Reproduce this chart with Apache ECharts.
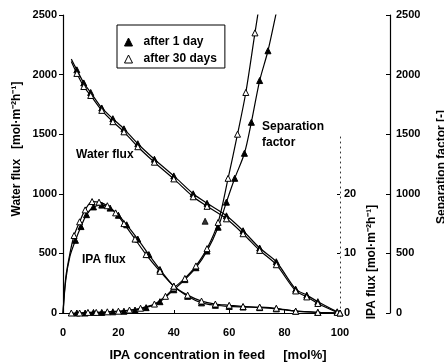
<!DOCTYPE html>
<html>
<head>
<meta charset="utf-8">
<script src="https://cdn.jsdelivr.net/npm/echarts@6/dist/echarts.min.js"></script>
<style>
  html, body { margin: 0; padding: 0; background: #fff; }
  #chart { width: 444px; height: 363px; }
</style>
</head>
<body>
<div id="chart"></div>
<script>
// 水通量 (left axis)
const waterX = [3, 5, 7.5, 10, 14, 18, 22, 27, 33, 40, 47, 52, 59, 65, 71, 77, 84, 88, 92, 99]
const water1d = [2130, 2040, 1930, 1850, 1720, 1630, 1545, 1420, 1290, 1150, 1000, 920, 815, 690, 545, 430, 200, 150, 95, 10]
const water30d = [2110, 2010, 1900, 1825, 1700, 1605, 1520, 1395, 1265, 1125, 975, 895, 790, 665, 525, 405, 185, 135, 80, 5]

// IPA flux (inner right axis)
const ipaX1d = [0, 1, 2.5, 4.5, 6.5, 8.5, 11, 14, 17, 20, 23, 27, 31, 35, 40, 45, 50, 55, 60, 65, 71, 77, 84, 92, 100]
const ipa1d = [0, 5.5, 9.5, 12.2, 14.5, 16.5, 17.8, 18.1, 17.6, 16.4, 14.8, 12.4, 9.8, 7.3, 4.5, 2.8, 1.7, 1.3, 1.1, 1.0, 0.9, 0.7, 0.3, 0.1, 0]
const ipaX30d = [0, 1, 2.5, 4, 6, 8, 10.5, 13, 16, 19, 22, 26, 30, 35, 40, 45, 50, 55, 60, 65, 71, 77, 84, 92, 100]
const ipa30d = [0, 6, 10, 13, 15.3, 17.3, 18.7, 18.6, 18, 16.8, 15, 12.4, 9.8, 7, 4.5, 3, 2, 1.5, 1.3, 1.1, 1.0, 0.8, 0.3, 0.1, 0]

// separation factor (outer right axis)
const sepX1d = [5, 8, 11, 14, 18, 22, 26, 30, 35, 40, 44, 48, 52, 56, 59, 62, 65.5, 68, 71, 74, 77, 80]
const sep1d = [0, 0, 5, 5, 10, 15, 25, 45, 95, 195, 280, 380, 520, 720, 930, 1130, 1340, 1600, 1950, 2200, 2520, 2850]
const sepX30d = [3, 6, 9, 12, 16, 20, 24, 28, 33, 37, 40, 44, 48, 52, 56, 59.6, 63, 66, 69.3, 72]
const sep30d = [0, 0, 5, 5, 10, 15, 25, 40, 75, 140, 210, 290, 395, 540, 760, 1130, 1500, 1850, 2350, 2750]
const sepOutX = [51.3]
const sepOut1d = [770]

const xTicks = [0, 20, 40, 60, 80, 100]
const ipaTicks = [0, 10, 20]

const FONT = 'Liberation Sans, Arial, sans-serif'
const bold = (size) => 'bold ' + size + 'px ' + FONT
const plain = (v) => String(v)

function pairs(xs, ys, noMarkBelow) {
  return xs.map(function(x, i) {
    const item = { value: [x, ys[i]] }
    if (noMarkBelow !== undefined && x < noMarkBelow) item.symbol = 'none'
    return item
  })
}

const filled = { color: '#000', borderColor: '#000', borderWidth: 1 }
const hollow = { color: '#fff', borderColor: '#000', borderWidth: 1 }
const line = { color: '#000', width: 1.2 }

function curve(name, xAxisIndex, yAxisIndex, data, style) {
  return {
    name: name,
    type: 'line',
    xAxisIndex: xAxisIndex,
    yAxisIndex: yAxisIndex,
    data: data,
    smooth: 0.3,
    symbol: 'triangle',
    symbolSize: 6,
    showAllSymbol: true,
    itemStyle: style,
    lineStyle: line,
    z: 3
  }
}

const chart = echarts.init(document.getElementById('chart'))

chart.setOption({
  animation: false,
  backgroundColor: '#fff',
  textStyle: { fontFamily: FONT },
  grid: [
    { left: 63, right: 104, top: 15, bottom: 50 },
    { left: 63, right: 104, top: 134.2, bottom: 50 }
  ],
  legend: {
    left: 117,
    top: 25,
    orient: 'vertical',
    padding: [10, 8, 2, 7],
    itemGap: 3,
    itemWidth: 8,
    itemHeight: 8,
    borderColor: '#000',
    borderWidth: 1,
    backgroundColor: '#fff',
    textStyle: { fontFamily: FONT, fontWeight: 'bold', fontSize: 12, color: '#000', padding: [0, 0, 0, 6], lineHeight: 14 },
    data: [
      { name: 'after 1 day', icon: 'triangle', itemStyle: filled },
      { name: 'after 30 days', icon: 'triangle', itemStyle: hollow }
    ]
  },
  xAxis: [
    {
      gridIndex: 0,
      type: 'value',
      min: 0,
      max: 100,
      interval: 20,
      axisLine: { lineStyle: { color: '#000', width: 1.2 } },
      axisTick: { inside: true, length: 3, lineStyle: { color: '#000' }, customValues: xTicks },
      axisLabel: { color: '#000', fontWeight: 'bold', fontSize: 11, margin: 14, customValues: xTicks, formatter: plain },
      splitLine: { show: false }
    },
    {
      gridIndex: 1,
      type: 'value',
      min: 0,
      max: 100,
      show: false
    }
  ],
  yAxis: [
    {
      gridIndex: 0,
      type: 'value',
      position: 'left',
      min: 0,
      max: 2500,
      interval: 500,
      axisLine: { show: true, lineStyle: { color: '#000', width: 1.2 } },
      axisTick: { show: true, length: 4, lineStyle: { color: '#000' } },
      axisLabel: { color: '#000', fontWeight: 'bold', fontSize: 11, margin: 6, formatter: plain },
      splitLine: { show: false }
    },
    {
      gridIndex: 0,
      type: 'value',
      position: 'right',
      offset: 50,
      min: 0,
      max: 2500,
      interval: 500,
      axisLine: { show: true, onZero: false, lineStyle: { color: '#000', width: 1.2 } },
      axisTick: { show: true, inside: true, length: 4, lineStyle: { color: '#000' } },
      axisLabel: { color: '#000', fontWeight: 'bold', fontSize: 11, margin: 6, formatter: plain },
      splitLine: { show: false }
    },
    {
      gridIndex: 1,
      type: 'value',
      position: 'right',
      min: 0,
      max: 30,
      interval: 10,
      axisLine: { show: true, onZero: false, lineStyle: { color: '#333', width: 1, type: [1, 4] } },
      axisTick: { show: true, inside: true, length: 3, lineStyle: { color: '#000' }, customValues: ipaTicks },
      axisLabel: { color: '#000', fontWeight: 'bold', fontSize: 11, margin: 4, customValues: ipaTicks, formatter: plain },
      splitLine: { show: false }
    }
  ],
  series: [
    curve('after 1 day', 0, 0, pairs(waterX, water1d, 4), filled),
    curve('after 30 days', 0, 0, pairs(waterX, water30d, 4), hollow),
    curve('after 1 day', 0, 1, pairs(sepX1d, sep1d), filled),
    curve('after 30 days', 0, 1, pairs(sepX30d, sep30d), hollow),
    {
      name: 'after 1 day',
      type: 'scatter',
      xAxisIndex: 0,
      yAxisIndex: 1,
      symbol: 'triangle',
      symbolSize: 6,
      itemStyle: filled,
      data: pairs(sepOutX, sepOut1d),
      z: 3
    },
    curve('after 1 day', 1, 2, pairs(ipaX1d, ipa1d, 3), filled),
    curve('after 30 days', 1, 2, pairs(ipaX30d, ipa30d, 3), hollow)
  ],
  graphic: [
    { type: 'text', x: 17, y: 149, rotation: Math.PI / 2, style: { text: 'Water flux   [mol·m⁻²h⁻¹]', font: bold(12), fill: '#000', textAlign: 'center', textVerticalAlign: 'middle' } },
    { type: 'text', x: 372, y: 262, rotation: Math.PI / 2, style: { text: 'IPA flux [mol·m⁻²h⁻¹]', font: bold(12), fill: '#000', textAlign: 'center', textVerticalAlign: 'middle' } },
    { type: 'text', x: 442, y: 167, rotation: Math.PI / 2, style: { text: 'Separation factor [-]', font: bold(12), fill: '#000', textAlign: 'center', textVerticalAlign: 'middle' } },
    { type: 'text', x: 218, y: 355, style: { text: 'IPA concentration in feed     [mol%]', font: bold(13), fill: '#000', textAlign: 'center', textVerticalAlign: 'middle' } },
    { type: 'text', x: 76, y: 155, style: { text: 'Water flux', font: bold(12), fill: '#000', textAlign: 'left', textVerticalAlign: 'middle' } },
    { type: 'text', x: 82, y: 260, style: { text: 'IPA flux', font: bold(12), fill: '#000', textAlign: 'left', textVerticalAlign: 'middle' } },
    { type: 'text', x: 262, y: 127, style: { text: 'Separation', font: bold(12), fill: '#000', textAlign: 'left', textVerticalAlign: 'middle' } },
    { type: 'text', x: 262, y: 143, style: { text: 'factor', font: bold(12), fill: '#000', textAlign: 'left', textVerticalAlign: 'middle' } }
  ]
})
</script>
</body>
</html>
